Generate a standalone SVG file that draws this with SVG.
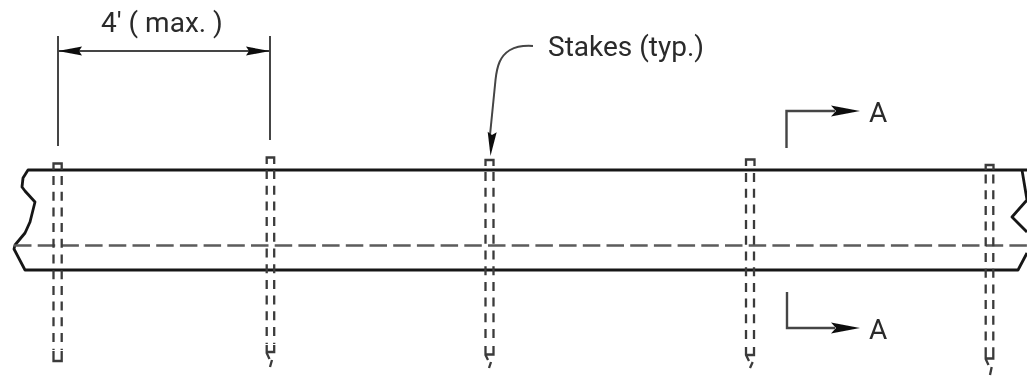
<svg xmlns="http://www.w3.org/2000/svg" width="1027" height="380" viewBox="0 0 1027 380">
<style>
text{font-family:Roboto,"Liberation Sans",sans-serif;fill:#2a2a2a;font-size:28px}
.thick{fill:none;stroke:#161616;stroke-width:2.8;stroke-linejoin:round}
.thin{fill:none;stroke:#444;stroke-width:2}
.center{fill:none;stroke:#5c5c5c;stroke-width:2.6;stroke-dasharray:17.5 6.2}
.stk{fill:none;stroke:#3a3a3a;stroke-width:2.3}
.dash{stroke-dasharray:9 6.7}
.head{fill:#111;stroke:none}
</style>
<defs>
<filter id="soft" x="-2%" y="-2%" width="104%" height="104%"><feGaussianBlur stdDeviation="0.4"/></filter>
<path id="ah" class="head" d="M0 0L-29 -5.500L-24 0L-29 5.500Z"/>
<path id="ad" class="head" d="M0 0L-24 -4.500L-21 0L-24 4.500Z"/>
</defs>
<rect width="1027" height="380" fill="#fff"/>
<g filter="url(#soft)">
<g id="wattle">
<path class="thick" d="M1027 170H28L23 178L22 187L25 191L35 202L30 222L25 233L15 245L14 249L25 270H1018L1027 253"/>
<path class="thick" d="M1022 170L1027 200L1012 217L1027 232"/>
<path class="center" d="M14 245.500H1027"/>
</g>
<g id="stake1">
<path class="stk" d="M53.500 170V163.500H61.700V170"/>
<path class="stk dash" d="M53.500 176V350M61.700 176V350"/>
<path class="stk" d="M53.500 351V361H61.700V351"/>
</g>
<g id="stake2">
<path class="stk" d="M266.700 164V157.500H274.200V164"/>
<path class="stk dash" d="M266.700 170V344M274.200 170V344"/>
<path class="stk" d="M266.700 345V353L269.500 359M274.200 345V352H266.700M272 360L270 367"/>
</g>
<g id="stake3">
<path class="stk" d="M485.500 166V160H493.500V166"/>
<path class="stk dash" d="M485.500 172V344M493.500 172V344"/>
<path class="stk" d="M485.500 346V355L488 360M493.500 346V354.500H485.500M491 362L489 368"/>
</g>
<g id="stake4">
<path class="stk" d="M746 166V159.500H754.500V166"/>
<path class="stk dash" d="M746 173V344M754 173V344"/>
<path class="stk" d="M746 347V355L749 361M754 347V355H746M752.700 362L750 368"/>
</g>
<g id="stake5">
<path class="stk" d="M985.700 170V165H993.500V170"/>
<path class="stk dash" d="M985.700 174.500V352M993.300 174.500V352"/>
<path class="stk" d="M985.700 352V359L988.500 365M993.300 352V358.500H985.700M991.700 367L990 375"/>
</g>
<g id="connectors">
<path class="thin" d="M58 36V146M270 36V140M58 51H270"/>
<use href="#ad" transform="translate(58 51) rotate(180)"/>
<use href="#ad" transform="translate(270 51)"/>
<path class="thin" d="M533 46C525 45.500 517 46 510 50C500 56 497 66 495.500 80L490 135"/>
<use href="#ad" transform="translate(490.500 156) rotate(94)"/>
<path class="thin" style="stroke-width:2.400" d="M786.500 148V111H835"/>
<use href="#ah" transform="translate(860 111)"/>
<path class="thin" style="stroke-width:2.400" d="M787 292V328H835"/>
<use href="#ah" transform="translate(860 328)"/>
</g>
<g id="labels">
<text x="101" y="32">4' ( max. )</text>
<text x="548" y="56">Stakes (typ.)</text>
<text x="869" y="122">A</text>
<text x="869" y="339">A</text>
</g>
</g>
</svg>
